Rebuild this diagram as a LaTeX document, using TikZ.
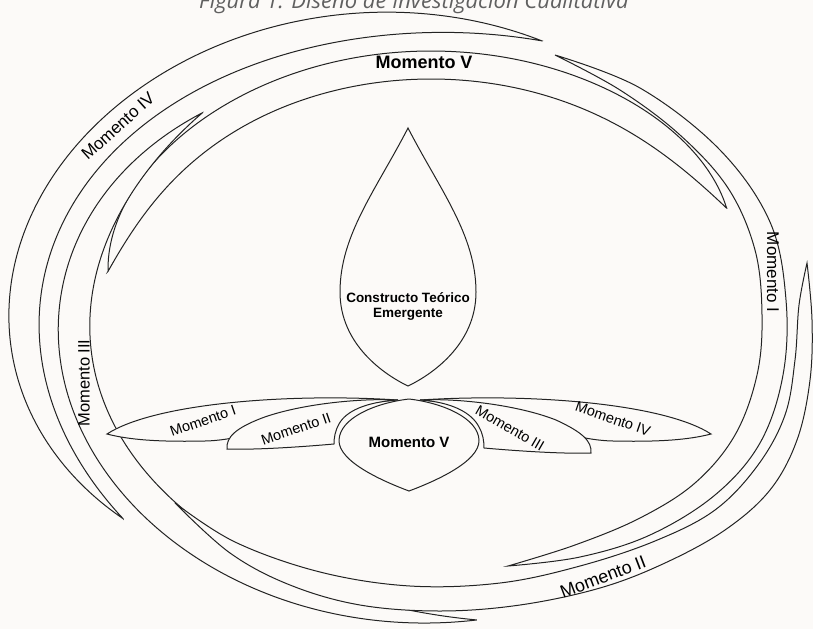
\documentclass[tikz,border=0pt]{standalone}
\usepackage{fontspec}
\setmainfont{Liberation Sans}
\newfontfamily\titlefont{Open Sans}
\definecolor{paper}{RGB}{252,250,248}
\definecolor{ink}{RGB}{35,35,35}

% crescent: cx, cy, a, b, tilt, t1, t2, width, profile in \prf
\newcommand{\moon}[9]{%
  \def\prf{(max(sin((\t-(#6))/((#7)-(#6))*180),0))}%
  \def\hw{(#8/2*(#9))}%
  \filldraw[moonline]
    plot[domain=#6:#7,samples=150,variable=\t]
      ({#1+(#3+\hw)*cos(\t)*cos(#5)-(#4+\hw)*sin(\t)*sin(#5)},
       {#2-(#3+\hw)*cos(\t)*sin(#5)-(#4+\hw)*sin(\t)*cos(#5)})
    -- plot[domain=#7:#6,samples=150,variable=\t]
      ({#1+(#3-\hw)*cos(\t)*cos(#5)-(#4-\hw)*sin(\t)*sin(#5)},
       {#2-(#3-\hw)*cos(\t)*sin(#5)-(#4-\hw)*sin(\t)*cos(#5)})
    -- cycle;}

\begin{document}
\begin{tikzpicture}[x=1pt,y=-1pt,
		moonline/.style={draw=ink,fill=paper,line width=1pt},
		petal/.style={draw=ink,fill=paper,line width=1pt},
		lbl/.style={font=\fontsize{17}{17}\selectfont,inner sep=0pt},
		petallbl/.style={font=\fontsize{14.5}{14.5}\selectfont,inner sep=0pt},
		boldlbl/.style={font=\fontsize{18}{18}\selectfont\bfseries,inner sep=0pt}
		]
	\fill[paper] (0,0) rectangle (813,629);
	\useasboundingbox (0,0) rectangle (813,629);

	\node[anchor=base,text=gray!75!black,font=\titlefont\itshape\fontsize{22}{22}\selectfont]
		(title) at (414,9) {Figura 1. Diseño de Investigación Cualitativa};

	% outer ring
	\moon{410}{320}{386}{297}{0}{70}{222}{32}{\prf*(2-\prf)}
	\moon{431}{320}{329}{255}{0}{26}{169}{28}{1-(1-\prf)*(1-\prf)*(1-\prf)*(1-\prf)}
	\moon{470}{328}{396}{292}{0}{132.5}{271}{32}{\prf*(2-\prf)}
	\filldraw[moonline] plot[smooth,tension=0.6] coordinates {(807,263) (812,320)
		(810,380) (797,440) (770,490) (725,530) (665,563) (600,588) (520,605)
		(440,611) (360,605) (290,585) (230,553) (175,503)}
		-- plot[smooth,tension=0.6] coordinates {(175,503) (235,542) (320,572)
		(410,586) (500,583) (580,566) (655,541) (715,510) (758,465) (785,415)
		(795,360) (799,305) (807,263)} -- cycle;
	\filldraw[moonline] plot[smooth,tension=0.6] coordinates {(555,55) (640,88)
		(720,150) (770,222) (786,300) (783,375) (760,443) (715,495) (650,535)
		(580,557) (508,566)}
		-- plot[smooth,tension=0.6] coordinates {(508,566) (575,545) (640,518)
		(695,483) (735,435) (757,375) (762,315) (755,250) (728,188) (680,135)
		(620,90) (555,55)} -- cycle;

	\node[lbl,rotate=42] (m4) at (118,126) {Momento IV};
	\node[boldlbl] (m5) at (424,62) {Momento V};
	\node[lbl,rotate=-90] (m1) at (773,272) {Momento I};
	\node[lbl,rotate=21,font=\fontsize{18}{18}\selectfont] (m2) at (603,577) {Momento II};
	\node[lbl,rotate=90,font=\fontsize{16.5}{16.5}\selectfont] (m3) at (84,383) {Momento III};

	% emergent construct
	\filldraw[petal] (408,128) .. controls (376,190) and (340,235) .. (340,292)
		.. controls (340,345) and (385,375) .. (408,386)
		.. controls (431,375) and (476,345) .. (476,292)
		.. controls (476,235) and (440,190) .. (408,128) -- cycle;
	\node[font=\fontsize{13.5}{15}\selectfont\bfseries,align=center,inner sep=0pt]
		(core) at (408,306) {Constructo Teórico\\Emergente};

	% lotus
	\filldraw[petal] (107,434) .. controls (155,403) and (290,393) .. (398,400)
		.. controls (320,405) and (260,440) .. (205,441)
		.. controls (160,442) and (130,440) .. (107,434) -- cycle;
	\filldraw[petal] (711,434) .. controls (663,403) and (528,393) .. (420,400)
		.. controls (498,405) and (558,440) .. (613,441)
		.. controls (658,442) and (688,440) .. (711,434) -- cycle;
	\filldraw[petal] (227,449) .. controls (226,437) and (236,428) .. (262,418)
		.. controls (300,404) and (360,398) .. (398,400)
		.. controls (366,402) and (346,411) .. (339,424)
		.. controls (335,431) and (334,438) .. (334,444)
		.. controls (300,447) and (255,450) .. (227,449) -- cycle;
	\filldraw[petal] (591,453) .. controls (592,441) and (582,432) .. (556,420)
		.. controls (518,405) and (458,398) .. (420,400)
		.. controls (452,402) and (472,413) .. (479,427)
		.. controls (483,434) and (484,441) .. (484,448)
		.. controls (518,451) and (563,454) .. (591,453) -- cycle;
	\filldraw[petal] (409,399) .. controls (375,403) and (340,418) .. (339,440)
		.. controls (338,462) and (385,482) .. (409,491)
		.. controls (433,482) and (480,462) .. (479,440)
		.. controls (478,418) and (443,403) .. (409,399) -- cycle;

	\node[petallbl,rotate=19] (p1) at (203,421) {Momento I};
	\node[petallbl,rotate=19] (p2) at (296,429) {Momento II};
	\node[petallbl,rotate=-30] (p3) at (510,428) {Momento III};
	\node[petallbl,rotate=-19] (p4) at (613,419) {Momento IV};
	\node[font=\fontsize{15}{15}\selectfont\bfseries,inner sep=0pt] (p5) at (409,442) {Momento V};
\end{tikzpicture}
\end{document}
